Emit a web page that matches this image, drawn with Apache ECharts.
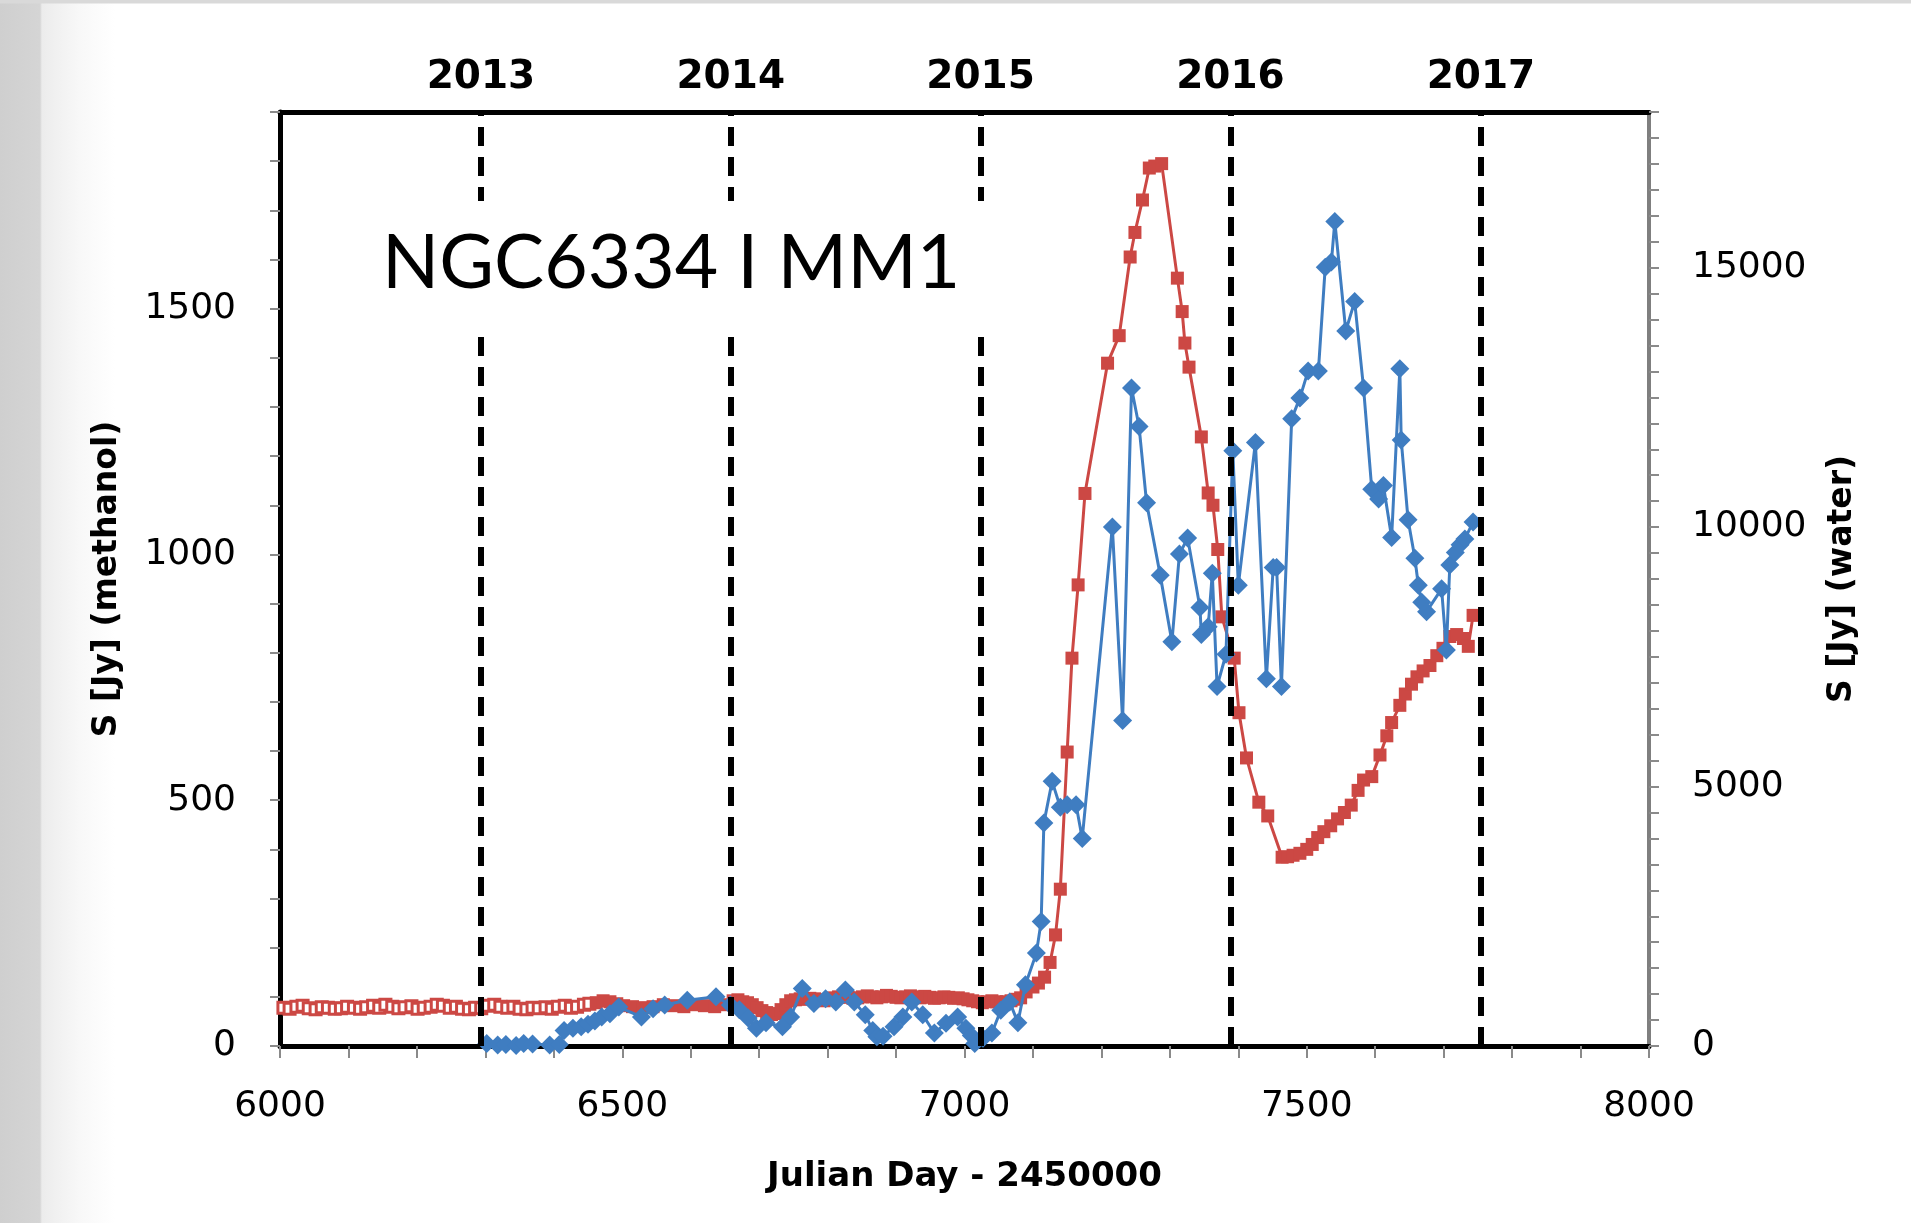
<!DOCTYPE html>
<html>
<head>
<meta charset="utf-8">
<title>NGC6334 I MM1 light curves</title>
<script src="https://cdn.jsdelivr.net/npm/echarts@6/dist/echarts.min.js"></script>
<style>
  html, body { margin: 0; padding: 0; width: 1911px; height: 1223px; overflow: hidden; }
  body {
    background:
      linear-gradient(to bottom, #d9d9d9 0, #d9d9d9 3px, rgba(255,255,255,0) 4px),
      linear-gradient(to right, #cfcfcf 0, #d5d5d5 40px, #ececec 42px, #f8f8f8 80px, #ffffff 115px);
  }
  #chart { width: 1911px; height: 1223px; }
</style>
</head>
<body>
<div id="chart"></div>
<script>
// 6.7 GHz methanol flux density, earlier monitoring (open squares), JD - 2450000 / Jy
const methanolEarlyDays = [6005, 6014, 6024, 6033, 6042, 6052, 6061, 6070, 6080, 6089, 6098, 6108, 6117, 6126, 6136,
  6145, 6154, 6164, 6173, 6182, 6192, 6201, 6210, 6220, 6229, 6238, 6248, 6257, 6266, 6276, 6285, 6294, 6304,
  6313, 6322, 6332, 6341, 6350, 6360, 6369, 6378, 6388, 6397, 6406, 6416, 6425, 6434, 6444, 6452];
const methanolEarlyFlux = [78, 76, 80, 82, 77, 75, 79, 78, 76, 77, 80, 78, 76, 79, 82,
  78, 84, 80, 77, 79, 81, 76, 78, 80, 84, 82, 78, 80, 76, 75, 78, 77, 82,
  84, 80, 78, 80, 76, 75, 78, 77, 79, 76, 80, 82, 78, 80, 84, 86];

// 6.7 GHz methanol flux density, main monitoring (filled squares)
const methanolDays = [6462, 6472, 6482, 6492, 6502, 6515, 6530, 6545, 6560, 6575, 6590, 6605, 6620, 6635, 6650,
  6662, 6669, 6676, 6683, 6690, 6697, 6704, 6711, 6718, 6725, 6732, 6739, 6746, 6753, 6760, 6767, 6774, 6781,
  6788, 6795, 6802, 6809, 6816, 6823, 6830, 6837, 6844, 6851, 6858, 6865, 6872, 6879, 6886, 6893, 6900, 6907,
  6914, 6921, 6928, 6935, 6942, 6949, 6956, 6963, 6970, 6977, 6984, 6991, 6998, 7005, 7012, 7019, 7026, 7033,
  7040, 7047, 7054, 7061, 7068, 7075, 7082, 7090, 7100, 7108, 7117, 7125, 7133, 7140, 7150, 7157, 7166, 7176,
  7209, 7226, 7242, 7249, 7260, 7270, 7278, 7288, 7311, 7318, 7322, 7328, 7346, 7356, 7363, 7370, 7376, 7394,
  7401, 7412, 7430, 7443, 7464, 7472, 7480, 7490, 7500, 7508, 7516, 7525, 7535, 7545, 7555, 7565, 7575, 7583,
  7595, 7607, 7617, 7624, 7636, 7644, 7653, 7661, 7670, 7680, 7690, 7699, 7709, 7719, 7729, 7736, 7743];
const methanolFlux = [88, 92, 90, 86, 82, 80, 78, 80, 84, 82, 80, 84, 82, 80, 84,
  92, 94, 90, 88, 84, 78, 72, 68, 64, 66, 74, 84, 92, 94, 96, 95, 97, 96,
  94, 92, 95, 98, 100, 101, 99, 97, 98, 100, 102, 100, 98, 100, 103, 101, 99, 98,
  100, 102, 100, 98, 101, 99, 97, 98, 100, 99, 97, 98, 96, 94, 92, 90, 88, 90,
  92, 90, 88, 90, 92, 95, 98, 110, 120, 128, 140, 170, 226, 319, 598, 789, 938, 1124,
  1389, 1445, 1605, 1655, 1721, 1786, 1790, 1795, 1562, 1494, 1430, 1381, 1239, 1125, 1100, 1010, 873, 789,
  678, 586, 496, 468, 384, 385, 388, 392, 400, 410, 424, 436, 448, 462, 475, 490, 520, 541,
  548, 592, 631, 658, 693, 716, 736, 751, 763, 774, 794, 809, 833, 837, 829, 813, 876];

// 22 GHz water maser flux density (diamonds), JD - 2450000 / Jy
const waterDays = [6302, 6318, 6330, 6345, 6356, 6369, 6394, 6408, 6415, 6428, 6440, 6450, 6460, 6470, 6482, 6495,
  6528, 6545, 6562, 6595, 6637, 6658, 6671, 6684, 6696, 6710, 6734, 6746, 6763, 6780, 6797, 6812, 6826, 6839,
  6855, 6866, 6872, 6881, 6897, 6910, 6923, 6939, 6956, 6973, 6990, 7002, 7010, 7015, 7027, 7040, 7053, 7066,
  7078, 7089, 7105, 7112, 7116, 7128, 7140, 7150, 7163, 7172, 7216, 7231, 7244, 7255, 7266, 7286, 7303, 7314,
  7326, 7344, 7346, 7356, 7362, 7369, 7382, 7392, 7400, 7425, 7441, 7451, 7456, 7463, 7478, 7490, 7502, 7517,
  7527, 7536, 7541, 7557, 7570, 7583, 7595, 7605, 7612, 7624, 7636, 7638, 7648, 7658, 7663, 7668, 7675, 7697,
  7704, 7709, 7717, 7724, 7731, 7743];
const waterFlux = [50, 20, 30, 10, 50, 40, 20, 30, 300, 340, 370, 420, 480, 560, 620, 750,
  560, 720, 790, 880, 950, 790, 700, 540, 340, 450, 370, 560, 1110, 820, 910, 850, 1080, 850,
  600, 300, 180, 190, 370, 560, 850, 600, 250, 440, 560, 340, 200, 50, 150, 250, 690, 850,
  450, 1180, 1790, 2400, 4300, 5100, 4600, 4650, 4650, 4000, 10000, 6275, 12680, 11940, 10470, 9070, 7790, 9480,
  9790, 8450, 7930, 8080, 9110, 6930, 7550, 11470, 8880, 11630, 7080, 9220, 9220, 6930, 12090, 12490, 13010, 13010,
  15010, 15110, 15890, 13780, 14350, 12680, 10730, 10540, 10800, 9800, 13050, 11680, 10140, 9400, 8880, 8550, 8370, 8810,
  7630, 9270, 9510, 9660, 9770, 10100];

// Start of each calendar year, JD - 2450000
const yearLabels = ['2013', '2014', '2015', '2016', '2017'];
const yearStarts = [6293.5, 6658.5, 7023.5, 7388.5, 7754.5];

// Axis extents
const dayRange = [6000, 8000];
const methanolRange = [0, 1900];
const waterRange = [0, 18000];

const RED = '#cc4844';
const BLUE = '#3f7dc1';
const AXIS_FONT = 'DejaVu Sans';

const zip = (xs, ys) => xs.map((x, i) => [x, ys[i]]);

const chart = echarts.init(document.getElementById('chart'), null, { renderer: 'canvas' });

chart.setOption({
  animation: false,
  backgroundColor: 'transparent',
  title: {
    text: 'NGC6334 I MM1',
    left: 352,
    top: 201,
    backgroundColor: '#ffffff',
    padding: [22, 30],
    textStyle: { fontFamily: 'Lato', fontSize: 75, fontWeight: 'normal', color: '#000', lineHeight: 82 }
  },
  grid: { left: 280, right: 262, top: 112, bottom: 177, containLabel: false },
  xAxis: [{
    type: 'value',
    min: dayRange[0], max: dayRange[1], interval: 100,
    name: 'Julian Day - 2450000',
    nameLocation: 'middle', nameGap: 114,
    nameTextStyle: { fontFamily: AXIS_FONT, fontSize: 34, fontWeight: 'bold', color: '#000' },
    axisLine: { onZero: false, lineStyle: { color: '#000', width: 5 } },
    axisTick: { show: true, inside: false, length: 12, lineStyle: { color: '#8a8a8a', width: 2 } },
    axisLabel: {
      margin: 43, fontFamily: AXIS_FONT, fontSize: 36, color: '#000',
      formatter: v => (v % 500 === 0 ? String(v) : '')
    },
    splitLine: { show: false }
  }, {
    type: 'value', position: 'top',
    min: dayRange[0], max: dayRange[1],
    axisLine: { onZero: false, lineStyle: { color: '#000', width: 5 } },
    axisTick: { show: false }, axisLabel: { show: false }, splitLine: { show: false }
  }],
  yAxis: [{
    type: 'value', position: 'left',
    min: methanolRange[0], max: methanolRange[1], interval: 100,
    name: 'S [Jy] (methanol)',
    nameLocation: 'middle', nameGap: 156, nameRotate: 90,
    nameTextStyle: { fontFamily: AXIS_FONT, fontSize: 33, fontWeight: 'bold', color: '#000' },
    axisLine: { show: true, onZero: false, lineStyle: { color: '#000', width: 5 } },
    axisTick: { show: true, inside: false, length: 10, lineStyle: { color: '#8a8a8a', width: 2 } },
    axisLabel: {
      margin: 44, fontFamily: AXIS_FONT, fontSize: 36, color: '#000',
      formatter: v => (v % 500 === 0 ? String(v) : '')
    },
    splitLine: { show: false }
  }, {
    type: 'value', position: 'right',
    min: waterRange[0], max: waterRange[1], interval: 500,
    name: 'S [Jy] (water)',
    nameLocation: 'middle', nameGap: 177, nameRotate: 90,
    nameTextStyle: { fontFamily: AXIS_FONT, fontSize: 33, fontWeight: 'bold', color: '#000' },
    axisLine: { show: true, onZero: false, lineStyle: { color: '#7f7f7f', width: 4 } },
    axisTick: { show: true, inside: false, length: 10, lineStyle: { color: '#8a8a8a', width: 2 } },
    axisLabel: {
      margin: 43, fontFamily: AXIS_FONT, fontSize: 36, color: '#000',
      formatter: v => (v % 5000 === 0 ? String(v) : '')
    },
    splitLine: { show: false }
  }],
  series: [{
    name: 'methanol (early)',
    type: 'line', xAxisIndex: 0, yAxisIndex: 0,
    data: zip(methanolEarlyDays, methanolEarlyFlux),
    symbol: 'rect', symbolSize: 11,
    itemStyle: { color: '#ffffff', borderColor: RED, borderWidth: 3 },
    lineStyle: { color: RED, width: 2 },
    z: 3
  }, {
    name: 'methanol',
    type: 'line', xAxisIndex: 0, yAxisIndex: 0,
    data: zip(methanolDays, methanolFlux),
    symbol: 'rect', symbolSize: 13,
    itemStyle: { color: RED },
    lineStyle: { color: RED, width: 3 },
    z: 3,
    markLine: {
      silent: true, animation: false,
      symbol: ['none', 'none'],
      lineStyle: { color: '#000', width: 6, type: [19, 11] },
      label: {
        show: true, position: 'end', distance: 15,
        formatter: p => p.name,
        fontFamily: AXIS_FONT, fontSize: 39, fontWeight: 'bold', color: '#000'
      },
      emphasis: { disabled: true },
      data: yearStarts.map((d, i) => ({ xAxis: d, name: yearLabels[i] }))
    }
  }, {
    name: 'water',
    type: 'line', xAxisIndex: 0, yAxisIndex: 1,
    data: zip(waterDays, waterFlux),
    symbol: 'diamond', symbolSize: 19,
    itemStyle: { color: BLUE },
    lineStyle: { color: BLUE, width: 3 },
    z: 4
  }]
});
</script>
</body>
</html>
